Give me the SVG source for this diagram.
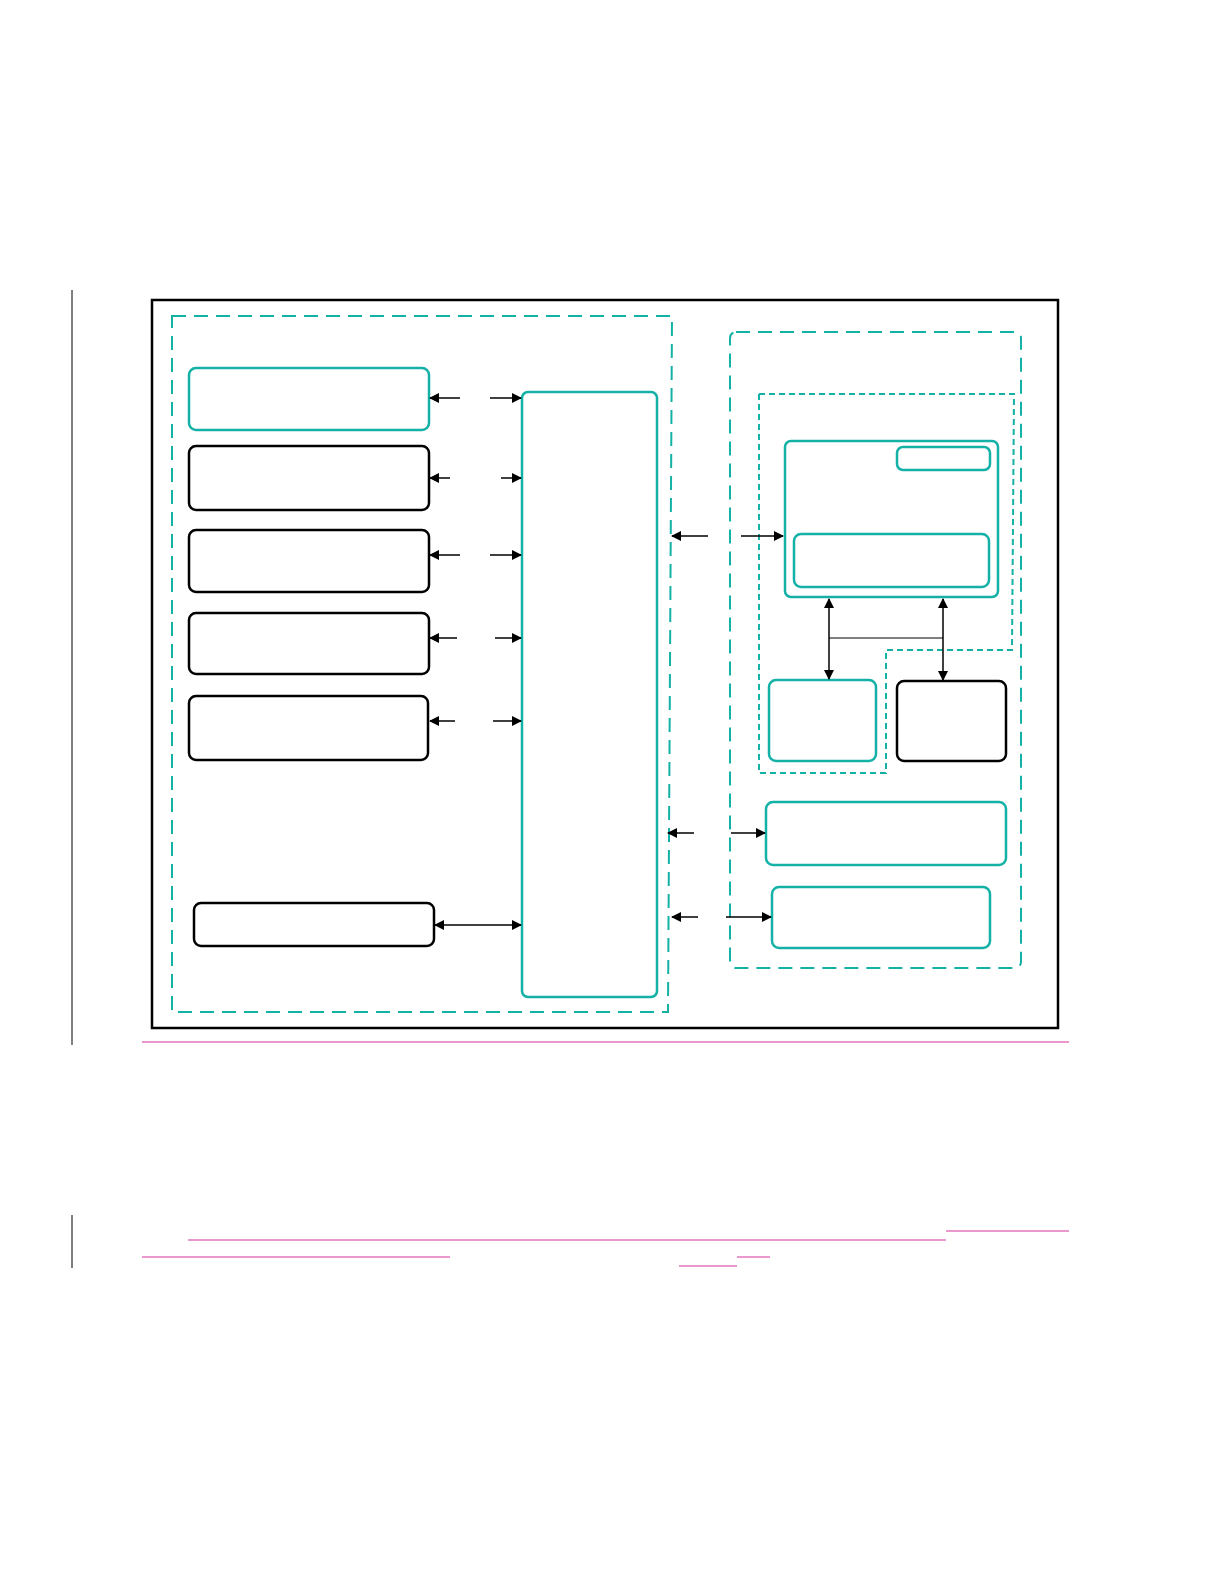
<svg xmlns="http://www.w3.org/2000/svg" width="1224" height="1584" viewBox="0 0 1224 1584">
<defs>
<marker id="ah" markerWidth="10" markerHeight="10" refX="9" refY="5" orient="auto-start-reverse" markerUnits="userSpaceOnUse"><path d="M0,0 L10,5 L0,10 Z" fill="#000"/></marker>
<style>
.t{fill:none;stroke:#14b1a6;stroke-width:2.5}
.k{fill:none;stroke:#000;stroke-width:2.5}
.d{fill:none;stroke:#14b1a6;stroke-width:2;stroke-dasharray:14,8}
.d2{fill:none;stroke:#14b1a6;stroke-width:2;stroke-dasharray:6,4}
.a{stroke:#000;stroke-width:1.5;fill:none}
.m{stroke:#d3329b;stroke-width:1}
</style>
</defs>
<rect width="1224" height="1584" fill="#fff"/>
<line x1="72" y1="290" x2="72" y2="1045" stroke="#000"/>
<line x1="72" y1="1215" x2="72" y2="1268" stroke="#000"/>
<rect x="152" y="300" width="906" height="728" fill="none" stroke="#000" stroke-width="2.5"/>
<line class="m" x1="142" y1="1042" x2="1069" y2="1042"/>
<g id="groups">
<path class="d" d="M172,316 H672 L668,1012 H172 Z"/>
<rect class="d" x="730" y="332" width="291" height="636" rx="6"/>
<path class="d2" d="M759,394 H1014 L1012,650 H886 V773 H759 Z"/>
</g>
<g id="n1"><rect class="t" x="189" y="368" width="240" height="62" rx="7"/></g>
<g id="n2"><rect class="k" x="189" y="446" width="240" height="64" rx="7"/></g>
<g id="n3"><rect class="k" x="189" y="530" width="240" height="62" rx="7"/></g>
<g id="n4"><rect class="k" x="189" y="613" width="240" height="61" rx="7"/></g>
<g id="n5"><rect class="k" x="189" y="696" width="239" height="64" rx="7"/></g>
<g id="n6"><rect class="k" x="194" y="903" width="240" height="43" rx="7"/></g>
<g id="bus"><rect class="t" x="522" y="392" width="135" height="605" rx="6"/></g>
<g id="n7"><rect class="t" x="785" y="441" width="213" height="156" rx="6"/></g>
<g id="n8"><rect class="t" x="897" y="447" width="93" height="23" rx="6"/></g>
<g id="n9"><rect class="t" x="794" y="534" width="195" height="53" rx="7"/></g>
<g id="n10"><rect class="t" x="769" y="680" width="107" height="81" rx="7"/></g>
<g id="n11"><rect class="k" x="897" y="681" width="109" height="80" rx="7"/></g>
<g id="n12"><rect class="t" x="766" y="802" width="240" height="63" rx="7"/></g>
<g id="n13"><rect class="t" x="772" y="887" width="218" height="61" rx="7"/></g>
<g id="connectors">
<line class="a" x1="460" y1="398" x2="430" y2="398" marker-end="url(#ah)"/>
<line class="a" x1="490" y1="398" x2="521" y2="398" marker-end="url(#ah)"/>
<line class="a" x1="450" y1="478" x2="430" y2="478" marker-end="url(#ah)"/>
<line class="a" x1="501" y1="478" x2="521" y2="478" marker-end="url(#ah)"/>
<line class="a" x1="460" y1="555" x2="430" y2="555" marker-end="url(#ah)"/>
<line class="a" x1="490" y1="555" x2="521" y2="555" marker-end="url(#ah)"/>
<line class="a" x1="457" y1="638" x2="430" y2="638" marker-end="url(#ah)"/>
<line class="a" x1="495" y1="638" x2="521" y2="638" marker-end="url(#ah)"/>
<line class="a" x1="455" y1="721" x2="430" y2="721" marker-end="url(#ah)"/>
<line class="a" x1="493" y1="721" x2="521" y2="721" marker-end="url(#ah)"/>
<line class="a" x1="435" y1="925" x2="521" y2="925" marker-start="url(#ah)" marker-end="url(#ah)"/>
<line class="a" x1="708" y1="536" x2="672" y2="536" marker-end="url(#ah)"/>
<line class="a" x1="741" y1="536" x2="783" y2="536" marker-end="url(#ah)"/>
<line class="a" x1="829" y1="599" x2="829" y2="679" marker-start="url(#ah)" marker-end="url(#ah)"/>
<line class="a" x1="943" y1="599" x2="943" y2="680" marker-start="url(#ah)" marker-end="url(#ah)"/>
<line x1="829" y1="638" x2="943" y2="638" stroke="#000" stroke-width="1"/>
<line class="a" x1="694" y1="833" x2="668" y2="833" marker-end="url(#ah)"/>
<line class="a" x1="731" y1="833" x2="765" y2="833" marker-end="url(#ah)"/>
<line class="a" x1="698" y1="917" x2="672" y2="917" marker-end="url(#ah)"/>
<line class="a" x1="726" y1="917" x2="771" y2="917" marker-end="url(#ah)"/>
</g>
<line class="m" x1="946" y1="1231" x2="1069" y2="1231"/>
<line class="m" x1="188" y1="1240" x2="946" y2="1240"/>
<line class="m" x1="142" y1="1257" x2="450" y2="1257"/>
<line class="m" x1="737" y1="1257" x2="770" y2="1257"/>
<line class="m" x1="679" y1="1266" x2="737" y2="1266"/>
</svg>
